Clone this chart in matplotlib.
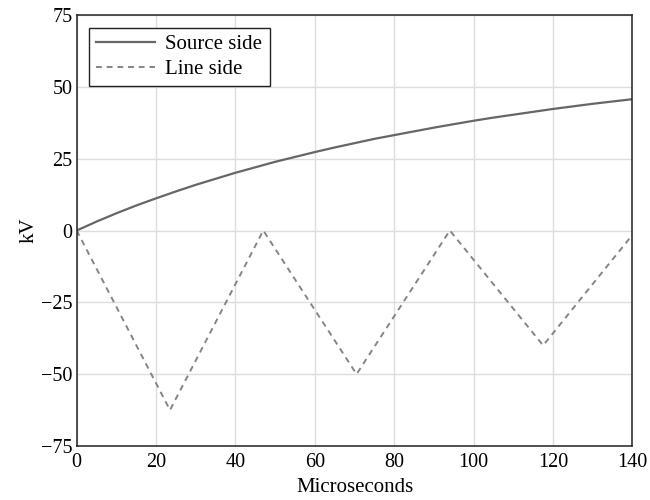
import matplotlib
matplotlib.use("Agg")
import matplotlib.pyplot as plt

# source side voltage (kV) vs time (microseconds)
src_t = [0, 5, 10, 15, 20, 25, 30, 35, 40, 45, 50, 55, 60, 65, 70,
         75, 80, 85, 90, 95, 100, 105, 110, 115, 120, 125, 130, 135, 140]
src_kv = [0, 3.1, 6.0, 8.7, 11.2, 13.6, 15.9, 18.0, 20.1, 22.0, 23.9, 25.6,
          27.3, 28.9, 30.4, 31.9, 33.2, 34.5, 35.8, 37.0, 38.2, 39.3, 40.3,
          41.3, 42.3, 43.2, 44.1, 44.9, 45.7]

# line side voltage (kV)
line_t = [0, 23.5, 47, 70.5, 94, 117.5, 140]
line_kv = [0, -62.5, 0, -50, 0, -40, -1.5]

x_ticks = [0, 20, 40, 60, 80, 100, 120, 140]
y_ticks = [-75, -50, -25, 0, 25, 50, 75]

plt.rcParams['font.family'] = ['Liberation Serif', 'DejaVu Serif']
plt.rcParams['font.size'] = 15

fig = plt.figure(figsize=(6.5, 5), dpi=100)
ax = fig.add_axes([0.118, 0.108, 0.855, 0.862])

ax.plot(src_t, src_kv, color='#666666', lw=1.6, label='Source side')
ax.plot(line_t, line_kv, color='#858585', lw=1.4, ls=(0, (3, 2.5)),
        label='Line side')

ax.set_xlim(0, 140)
ax.set_ylim(-75, 75)
ax.set_xticks(x_ticks)
ax.set_yticks(y_ticks)
ax.grid(True, color='#dddddd', lw=1)
ax.set_axisbelow(True)
ax.tick_params(length=0, labelsize=14.5)
ax.tick_params(axis='x', pad=5)
ax.tick_params(axis='y', pad=3)
for s in ax.spines.values():
    s.set_color('#222222')
    s.set_linewidth(1.1)

ax.set_xlabel('Microseconds', labelpad=4)
ax.set_ylabel('kV', labelpad=2)

leg = ax.legend(loc='upper left', fancybox=False, edgecolor='#222222',
                framealpha=1, handlelength=2.8, borderaxespad=0.6,
                handletextpad=0.5, labelspacing=0.25, borderpad=0.35)
leg.get_frame().set_linewidth(1.0)

fig.savefig('out.png', dpi=100)
